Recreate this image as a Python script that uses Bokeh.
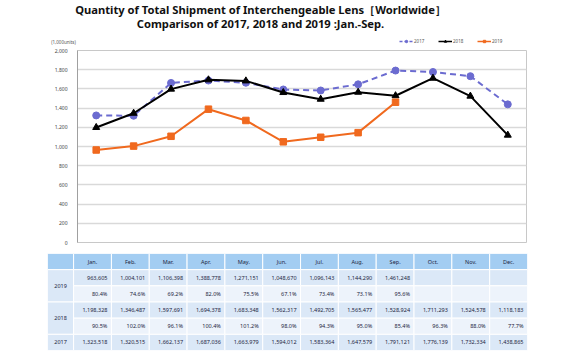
from bokeh.plotting import figure
from bokeh.models import (FactorRange, Range1d, Legend, LegendItem,
                          NumeralTickFormatter, ColumnDataSource, FixedTicker)
from bokeh.embed import file_html
from bokeh.resources import INLINE
from bokeh.core.properties import value

months = ["Jan.", "Feb.", "Mar.", "Apr.", "May.", "Jun.", "Jul.", "Aug.", "Sep.", "Oct.", "Nov.", "Dec."]
v2019 = [963605, 1004101, 1106398, 1388778, 1271151, 1048670, 1096143, 1144290, 1461248]
p2019 = ["80.4%", "74.6%", "69.2%", "82.0%", "75.5%", "67.1%", "73.4%", "73.1%", "95.6%"]
v2018 = [1198328, 1346487, 1597691, 1694378, 1683348, 1562317, 1492705, 1565477, 1528924, 1711293, 1524578, 1118183]
p2018 = ["90.5%", "102.0%", "96.1%", "100.4%", "101.2%", "98.0%", "94.3%", "95.0%", "85.4%", "96.3%", "88.0%", "77.7%"]
v2017 = [1323518, 1320515, 1662137, 1687036, 1663979, 1594012, 1583364, 1647579, 1791121, 1776139, 1732334, 1438865]
years = ["2017", "2018", "2019"]
y_ticks = list(range(0, 2001, 200))
title_lines = ["Quantity of Total Shipment of Interchengeable Lens［Worldwide］",
               "Comparison of 2017, 2018 and 2019 :Jan.-Sep."]
unit_label = "(1,000units)"

FONT = "Noto Sans"
C17, C18, C19 = "#6b6bd0", "#000000", "#f0691e"
styles = {"2017": dict(color=C17, dash="6 4", marker="circle", size=7),
          "2018": dict(color=C18, dash="solid", marker="triangle", size=7),
          "2019": dict(color=C19, dash="solid", marker="square", size=6.5)}

def bare(fig):
    fig.axis.visible = False
    fig.grid.visible = False
    fig.outline_line_color = None

# ---------------- header (title, unit, legend) ----------------
H = 46
h = figure(width=573, height=H, x_range=Range1d(0, 573), y_range=Range1d(0, H),
           output_backend="svg", toolbar_location=None,
           min_border_left=0, min_border_right=0, min_border_top=0, min_border_bottom=0)
bare(h)
h.text(x=[260, 260], y=[H - 9, H - 23], text=title_lines, text_font=value(FONT),
       text_font_style="bold", text_font_size="11.2px", text_align="center",
       text_baseline="middle", text_color="#111111")
h.text(x=[63], y=[H - 41], text=[unit_label], text_font=value(FONT), text_font_size="4.5px",
       text_align="center", text_baseline="middle", text_color="#555555")
items = []
nan = float("nan")
for yr in years:
    st = styles[yr]
    proxy = ColumnDataSource(dict(x=[nan], y=[nan]))
    lr = h.line("x", "y", source=proxy, color=st["color"], line_width=1.5,
                line_dash="3 2" if yr == "2017" else "solid")
    mr = h.scatter("x", "y", source=proxy, marker=st["marker"], size=3.5, color=st["color"])
    items.append(LegendItem(label=yr, renderers=[lr, mr]))
legend = Legend(items=items, orientation="horizontal", location=(399, 2),
                label_text_font_size="4.5px", label_text_font=FONT, label_text_color="#555555",
                glyph_width=14, glyph_height=6, spacing=10, label_standoff=1, label_width=14,
                label_height=6, padding=0, margin=0, border_line_color=None,
                background_fill_alpha=0)
h.add_layout(legend)

# ---------------- chart ----------------
p = figure(width=573, height=245 - H, x_range=FactorRange(*months, range_padding=0),
           y_range=Range1d(0, 2000), output_backend="svg", toolbar_location=None,
           min_border_left=77, min_border_right=47, min_border_top=50 - H, min_border_bottom=3)
p.xaxis.visible = False
p.xgrid.visible = False
p.ygrid.grid_line_color = "#d9d9d9"
p.ygrid.grid_line_width = 1.3
p.yaxis.ticker = FixedTicker(ticks=y_ticks)
p.yaxis.formatter = NumeralTickFormatter(format="0,0")
p.yaxis.major_tick_line_color = None
p.yaxis.minor_tick_line_color = None
p.yaxis.axis_line_color = "#a0a0a0"
p.yaxis.major_label_text_font_size = "5px"
p.yaxis.major_label_text_font = FONT
p.yaxis.major_label_text_color = "#444444"
p.yaxis.major_label_standoff = 4
p.outline_line_color = "#c8c8c8"
p.outline_line_width = 1

series = {"2017": v2017, "2018": v2018, "2019": v2019}
for yr in years:
    vals = series[yr]
    st = styles[yr]
    src = ColumnDataSource(dict(x=months[:len(vals)], y=[v / 1000 for v in vals]))
    p.line("x", "y", source=src, color=st["color"], line_width=2, line_dash=st["dash"])
    p.scatter("x", "y", source=src, marker=st["marker"], size=st["size"], color=st["color"])

# ---------------- table ----------------
HDR, DARK, LIGHT = "#a3cdf2", "#dbe8f7", "#edf3fb"
TXT = "#1c2540"
t = figure(width=573, height=107, x_range=Range1d(-0.69, 12), y_range=Range1d(0, 6),
           output_backend="svg", toolbar_location=None,
           min_border_left=47, min_border_right=46, min_border_top=8, min_border_bottom=2)
bare(t)

left, right, bottom, top, colors = [], [], [], [], []
def cell(l, r, b, tp, c):
    left.append(l); right.append(r); bottom.append(b); top.append(tp); colors.append(c)

cell(-0.69, 0, 5, 6, HDR)
for i in range(12):
    cell(i, i + 1, 5, 6, HDR)
cell(-0.69, 0, 3, 5, DARK)
cell(-0.69, 0, 1, 3, DARK)
cell(-0.69, 0, 0, 1, DARK)
for i in range(12):
    cell(i, i + 1, 4, 5, DARK)
    cell(i, i + 1, 3, 4, LIGHT)
    cell(i, i + 1, 2, 3, DARK)
    cell(i, i + 1, 1, 2, LIGHT)
    cell(i, i + 1, 0, 1, DARK)
t.quad(left=left, right=right, bottom=bottom, top=top, fill_color=colors,
       line_color="white", line_width=1)

tx = dict(text_font=value(FONT), text_font_size="5.5px", text_color=TXT, text_baseline="middle")
t.text(x=[i + 0.5 for i in range(12)], y=[5.5] * 12, text=months, text_align="center", **tx)
t.text(x=[-0.345] * 3, y=[4, 2, 0.5], text=["2019", "2018", "2017"], text_align="center", **tx)

def fmt(v):
    return f"{v:,}"

rows = [([fmt(v) for v in v2019], 4.5), (p2019, 3.5), ([fmt(v) for v in v2018], 2.5),
        (p2018, 1.5), ([fmt(v) for v in v2017], 0.5)]
for vals, yy in rows:
    t.text(x=[i + 1 for i in range(len(vals))], y=[yy] * len(vals), text=vals,
           text_align="right", x_offset=-4, **tx)

open("out.html", "w").write(file_html([h, p, t], INLINE))
